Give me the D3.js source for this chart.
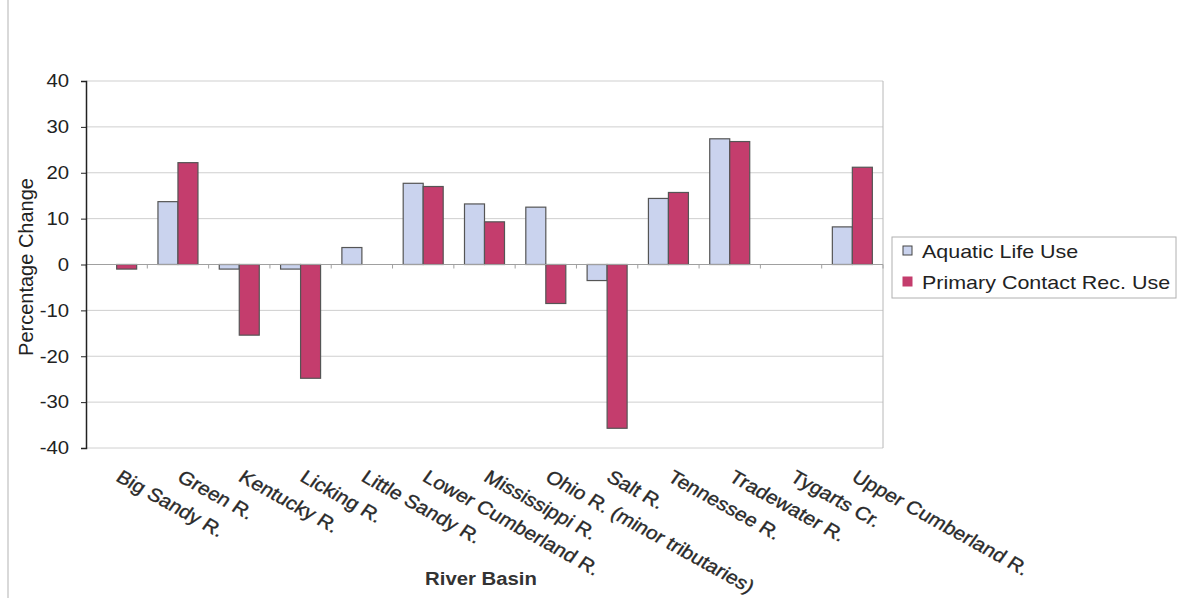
<!DOCTYPE html>
<html><head><meta charset="utf-8">
<script src="https://cdn.jsdelivr.net/npm/d3@7"></script>
<style>
html,body{margin:0;padding:0;background:#fff;}
svg{display:block;font-family:"Liberation Sans",Arial,sans-serif;}
</style></head>
<body><svg id="chart" width="1182" height="598"></svg>
<script>
const categories = ["Big Sandy R.","Green R.","Kentucky R.","Licking R.","Little Sandy R.","Lower Cumberland R.","Mississippi R.","Ohio R. (minor tributaries)","Salt R.","Tennessee R.","Tradewater R.","Tygarts Cr.","Upper Cumberland R."];
const aquaticLife = [0, 13.7, -1, -1, 3.7, 17.7, 13.2, 12.5, -3.5, 14.4, 27.4, 0, 8.2];
const primaryContact = [-1, 22.2, -15.4, -24.8, 0, 17.0, 9.3, -8.5, -35.7, 15.7, 26.8, 0, 21.2];
const seriesNames = ["Aquatic Life Use","Primary Contact Rec. Use"];
const yTicks = [-40,-30,-20,-10,0,10,20,30,40];

const colors = ["#cad3ee","#c43d6d"];
const SX = 1.13; // horizontal stretch of the scanned text
const svg = d3.select("#chart");
const L = 86, R = 883, T = 81, B = 448;

// page border line (scan)
svg.append("line").attr("x1",8).attr("x2",8).attr("y1",0).attr("y2",598).attr("stroke","#ccc").attr("stroke-width",1.5);

const x = d3.scaleBand().domain(categories).range([L,R]).paddingInner(0).paddingOuter(0);
const y = d3.scaleLinear().domain([-40,40]).range([B,T]);
const xs = d3.scaleBand().domain([0,1]).range([0,40]);
const bw = xs.bandwidth();

// gridlines
svg.append("g").selectAll("line").data(yTicks.filter(t=>t!==0 && t!==-40)).join("line")
  .attr("x1",L).attr("x2",R).attr("y1",d=>y(d)).attr("y2",d=>y(d))
  .attr("stroke","#cfcfcf").attr("stroke-width",1);
svg.append("line").attr("x1",L).attr("x2",R).attr("y1",y(-40)).attr("y2",y(-40)).attr("stroke","#d0d0d0");
svg.append("line").attr("x1",R).attr("x2",R).attr("y1",y(40)).attr("y2",y(-40)).attr("stroke","#b8b8b8");

// bars
const data = categories.map((c,i)=>({c, v:[aquaticLife[i], primaryContact[i]]}));
const g = svg.append("g");
data.forEach(d=>{
  const cx = x(d.c) + x.bandwidth()/2 - 20;
  d.v.forEach((v,k)=>{
    if (v === 0) return;
    g.append("rect")
      .attr("x", cx + xs(k)).attr("width", bw)
      .attr("y", y(Math.max(0,v))).attr("height", Math.abs(y(v)-y(0)))
      .attr("fill", colors[k]).attr("stroke","#555").attr("stroke-width",1.2);
  });
});

// zero axis line with ticks
svg.append("line").attr("x1",L).attr("x2",R).attr("y1",y(0)).attr("y2",y(0)).attr("stroke","#a0a0a0").attr("stroke-width",1.2);
svg.append("g").selectAll("line").data(d3.range(categories.length+1)).join("line")
  .attr("x1",i=>L+i*x.bandwidth()).attr("x2",i=>L+i*x.bandwidth())
  .attr("y1",y(0)).attr("y2",y(0)+4).attr("stroke","#a0a0a0");

// y axis
const yAxis = d3.axisLeft(y).tickValues(yTicks).tickSize(5).tickPadding(0).tickFormat(d=>String(d));
const ya = svg.append("g").attr("transform",`translate(${L},0)`).call(yAxis);
ya.select(".domain").attr("stroke","#222").attr("stroke-width",1.5);
ya.selectAll(".tick line").attr("stroke","#222");
ya.selectAll(".tick text").attr("x",null)
  .attr("transform",`translate(-17,0) scale(${SX},1)`)
  .attr("font-size",18).attr("fill","#222").attr("font-family","Liberation Sans, Arial, sans-serif");

// category labels (stretched horizontally like the scan)
const ang = 29 * Math.PI/180;
const preAng = Math.atan(Math.tan(ang)*SX) * 180/Math.PI;
svg.append("g").selectAll("text").data(categories).join("text")
  .attr("transform",d=>`translate(${x(d)+x.bandwidth()/2+6},${469}) scale(${SX},1) rotate(${preAng})`)
  .attr("dy","0.71em")
  .attr("font-size",18.6).attr("fill","#2a2a2a").attr("stroke","#2a2a2a").attr("stroke-width",0.35)
  .text(d=>d);

// axis titles
svg.append("text").attr("transform","translate(33,267) rotate(-90)")
  .attr("text-anchor","middle").attr("font-size",20).attr("fill","#222").text("Percentage Change");
svg.append("text").attr("transform",`translate(481,585) scale(${SX},1)`).attr("text-anchor","middle")
  .attr("font-size",18).attr("font-weight","bold").attr("fill","#333").text("River Basin");

// legend
const lg = svg.append("g");
lg.append("rect").attr("x",892).attr("y",237).attr("width",284).attr("height",61)
  .attr("fill","#fff").attr("stroke","#b0b0b0");
seriesNames.forEach((n,k)=>{
  const yy = 251 + k*31;
  lg.append("rect").attr("x",903).attr("y",yy-5).attr("width",9).attr("height",9)
    .attr("fill",colors[k]).attr("stroke", k===0?"#444":colors[k]);
  lg.append("text").attr("transform",`translate(922,${yy}) scale(${SX},1)`).attr("dy","0.35em")
    .attr("font-size",19).attr("fill","#222").text(n);
});
</script></body></html>
